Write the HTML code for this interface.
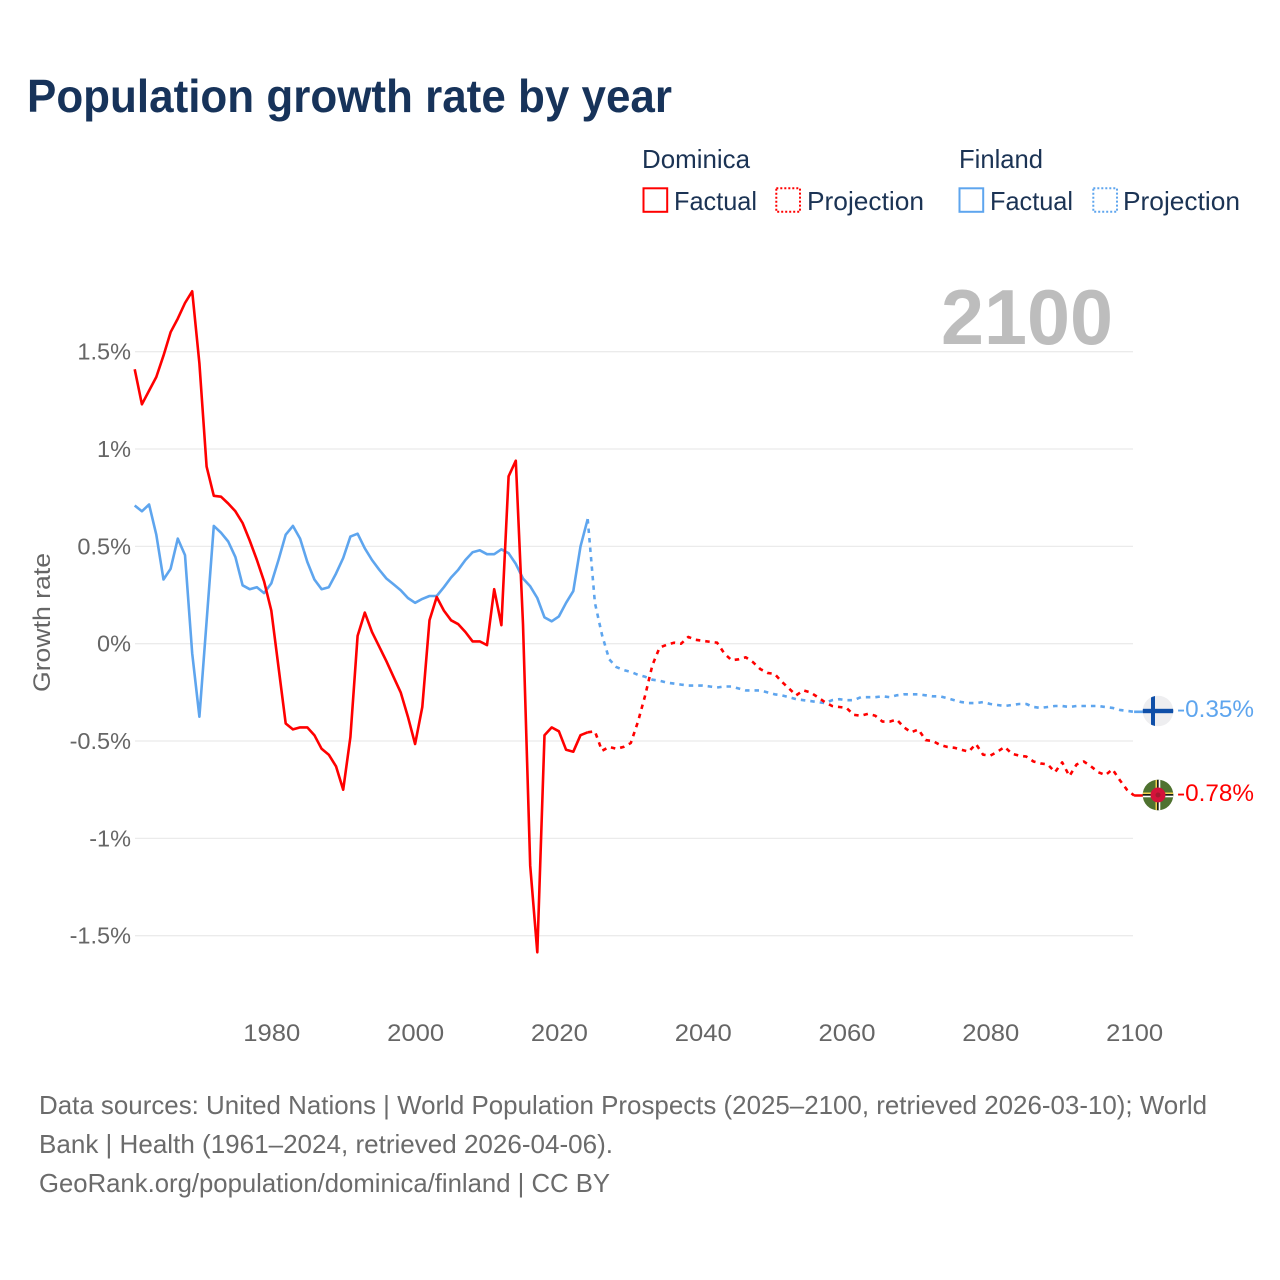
<!DOCTYPE html>
<html lang="en">
<head>
<meta charset="utf-8">
<title>Population growth rate by year</title>
<style>
html,body{margin:0;padding:0;background:#fff;width:1280px;height:1280px;overflow:hidden}
svg{display:block}
text{font-family:"Liberation Sans",sans-serif}
</style>
</head>
<body>
<svg id="chart" xmlns="http://www.w3.org/2000/svg" width="1280" height="1280" viewBox="0 0 1280 1280">
  <rect width="1280" height="1280" fill="#fff"/>
  <text x="27" y="112" font-size="46" font-weight="700" fill="#17335a" textLength="645" lengthAdjust="spacingAndGlyphs">Population growth rate by year</text>

  <g font-size="26" fill="#1b3354">
    <text x="642" y="168" textLength="108" lengthAdjust="spacingAndGlyphs">Dominica</text>
    <text x="959" y="168" textLength="84" lengthAdjust="spacingAndGlyphs">Finland</text>
    <rect x="643.5" y="188.3" width="23.7" height="23.5" fill="none" stroke="#ff0000" stroke-width="2"/>
    <text x="674" y="210" textLength="83" lengthAdjust="spacingAndGlyphs">Factual</text>
    <rect x="776.3" y="188.3" width="23.7" height="23.5" fill="none" stroke="#ff0000" stroke-width="2" stroke-dasharray="2 2"/>
    <text x="807" y="210" textLength="117" lengthAdjust="spacingAndGlyphs">Projection</text>
    <rect x="959.5" y="188.3" width="23.7" height="23.5" fill="none" stroke="#5ea5ee" stroke-width="2"/>
    <text x="990" y="210" textLength="83" lengthAdjust="spacingAndGlyphs">Factual</text>
    <rect x="1093.3" y="188.3" width="23.7" height="23.5" fill="none" stroke="#5ea5ee" stroke-width="2" stroke-dasharray="2 2"/>
    <text x="1123" y="210" textLength="117" lengthAdjust="spacingAndGlyphs">Projection</text>
  </g>

  <text x="941" y="344" font-size="78" font-weight="700" fill="#bdbdbd" textLength="172" lengthAdjust="spacingAndGlyphs">2100</text>

  <g id="grid"></g>
  <g id="yticks"></g>
  <g id="xticks"></g>
  <text transform="translate(50,692) rotate(-90)" font-size="24" fill="#666" textLength="139" lengthAdjust="spacingAndGlyphs">Growth rate</text>
  <g id="series"></g>

  <defs>
    <clipPath id="clip-fi"><circle cx="1158" cy="711" r="15.3"/></clipPath>
    <clipPath id="clip-dm"><circle cx="1158" cy="795" r="15.3"/></clipPath>
  </defs>
  <g clip-path="url(#clip-fi)">
    <rect x="1142" y="695" width="32" height="32" fill="#eeeef0"/>
    <rect x="1151" y="695" width="4" height="32" fill="#0f4fa8"/>
    <rect x="1142" y="708.8" width="32" height="4.4" fill="#0f4fa8"/>
  </g>
  <g clip-path="url(#clip-dm)">
    <rect x="1142" y="779" width="32" height="32" fill="#4f7230"/>
    <rect x="1155.5" y="779" width="1.6" height="32" fill="#f2d34f"/>
    <rect x="1157.1" y="779" width="1.6" height="32" fill="#111"/>
    <rect x="1158.7" y="779" width="1.6" height="32" fill="#fff"/>
    <rect x="1142" y="792.5" width="32" height="1.6" fill="#f2d34f"/>
    <rect x="1142" y="794.1" width="32" height="1.6" fill="#111"/>
    <rect x="1142" y="795.7" width="32" height="1.6" fill="#fff"/>
    <circle cx="1158" cy="795" r="7.5" fill="#d4123a"/>
    <circle cx="1158" cy="795" r="2.5" fill="#a5182f"/>
  </g>
  <text x="1177" y="717" font-size="24" fill="#5ea5ee" textLength="77" lengthAdjust="spacingAndGlyphs">-0.35%</text>
  <text x="1177" y="801" font-size="24" fill="#ff0000" textLength="77" lengthAdjust="spacingAndGlyphs">-0.78%</text>

  <g font-size="26" fill="#6b6b6b">
    <text x="39" y="1114" textLength="1168" lengthAdjust="spacingAndGlyphs">Data sources: United Nations | World Population Prospects (2025–2100, retrieved 2026-03-10); World</text>
    <text x="39" y="1153" textLength="574" lengthAdjust="spacingAndGlyphs">Bank | Health (1961–2024, retrieved 2026-04-06).</text>
    <text x="39" y="1192" textLength="571" lengthAdjust="spacingAndGlyphs">GeoRank.org/population/dominica/finland | CC BY</text>
  </g>
</svg>
<script>
const yTicks = [1.5, 1, 0.5, 0, -0.5, -1, -1.5];
const yTickLabels = ['1.5%', '1%', '0.5%', '0%', '-0.5%', '-1%', '-1.5%'];
const xTicks = [1980, 2000, 2020, 2040, 2060, 2080, 2100];
const factualStartYear = 1961;
const projectionStartYear = 2025;
const dominicaFactual = [1.41,1.23,1.30,1.37,1.48,1.60,1.67,1.75,1.81,1.44,0.91,0.76,0.755,0.72,0.68,0.62,0.53,0.43,0.32,0.17,-0.12,-0.41,-0.44,-0.43,-0.43,-0.47,-0.54,-0.57,-0.63,-0.75,-0.48,0.04,0.16,0.06,-0.015,-0.09,-0.17,-0.25,-0.375,-0.515,-0.325,0.12,0.24,0.17,0.12,0.10,0.06,0.012,0.012,-0.007,0.28,0.095,0.86,0.94,0.10,-1.14,-1.585,-0.47,-0.43,-0.45,-0.545,-0.555,-0.47,-0.455];
const dominicaProjection = [-0.45,-0.55,-0.53,-0.54,-0.53,-0.51,-0.40,-0.265,-0.11,-0.02,-0.005,0.005,0,0.035,0.02,0.015,0.01,0.005,-0.05,-0.085,-0.08,-0.07,-0.095,-0.13,-0.15,-0.155,-0.195,-0.23,-0.265,-0.24,-0.25,-0.275,-0.30,-0.32,-0.325,-0.33,-0.365,-0.37,-0.36,-0.37,-0.40,-0.40,-0.39,-0.43,-0.455,-0.44,-0.495,-0.50,-0.52,-0.53,-0.535,-0.545,-0.555,-0.515,-0.57,-0.575,-0.555,-0.53,-0.565,-0.575,-0.58,-0.605,-0.615,-0.62,-0.66,-0.61,-0.68,-0.62,-0.605,-0.63,-0.66,-0.675,-0.645,-0.70,-0.75,-0.78];
const finlandFactual = [0.71,0.68,0.715,0.56,0.33,0.385,0.54,0.455,-0.05,-0.375,0.115,0.605,0.57,0.525,0.445,0.30,0.28,0.29,0.26,0.31,0.43,0.56,0.605,0.54,0.42,0.33,0.28,0.29,0.36,0.44,0.55,0.565,0.49,0.43,0.38,0.335,0.305,0.275,0.235,0.21,0.23,0.245,0.245,0.29,0.34,0.38,0.43,0.47,0.48,0.46,0.46,0.485,0.465,0.41,0.335,0.295,0.235,0.135,0.115,0.14,0.21,0.27,0.50,0.64];
const finlandProjection = [0.21,0.045,-0.08,-0.12,-0.135,-0.145,-0.16,-0.17,-0.185,-0.19,-0.20,-0.205,-0.21,-0.215,-0.215,-0.215,-0.22,-0.225,-0.22,-0.22,-0.23,-0.24,-0.24,-0.24,-0.25,-0.26,-0.265,-0.275,-0.285,-0.29,-0.295,-0.30,-0.305,-0.29,-0.285,-0.29,-0.29,-0.275,-0.275,-0.275,-0.27,-0.275,-0.265,-0.26,-0.26,-0.26,-0.265,-0.27,-0.27,-0.28,-0.29,-0.30,-0.305,-0.305,-0.30,-0.31,-0.315,-0.32,-0.315,-0.31,-0.31,-0.325,-0.33,-0.325,-0.32,-0.32,-0.325,-0.32,-0.32,-0.32,-0.32,-0.325,-0.33,-0.34,-0.345,-0.35];

const NS = 'http://www.w3.org/2000/svg';
const flagX = 1158;
function xScale(year) { return 134.7 + (year - 1961) * 7.19; }
function yScale(value) { return 643.7 - value * 194.67; }
function pointsFrom(values, startYear) {
  return values.map(function (v, i) { return xScale(startYear + i).toFixed(1) + ',' + yScale(v).toFixed(1); });
}

const gridGroup = document.getElementById('grid');
const yTickGroup = document.getElementById('yticks');
yTicks.forEach(function (v, i) {
  const line = document.createElementNS(NS, 'line');
  
  
  line.setAttribute('x1', 135);
  line.setAttribute('x2', 1133);
  line.setAttribute('y1', yScale(v));
  line.setAttribute('y2', yScale(v));
  line.setAttribute('stroke', '#ebebeb');
  line.setAttribute('stroke-width', '1.3');
  gridGroup.appendChild(line);
  const label = document.createElementNS(NS, 'text');
  
  
  label.setAttribute('x', 131);
  label.setAttribute('y', yScale(v) + 8);
  label.setAttribute('text-anchor', 'end');
  label.setAttribute('font-size', '23.5');
  label.setAttribute('fill', '#666');
  label.textContent = yTickLabels[i];
  yTickGroup.appendChild(label);
});

const xTickGroup = document.getElementById('xticks');
xTicks.forEach(function (year) {
  const label = document.createElementNS(NS, 'text');
  
  
  label.setAttribute('x', xScale(year) + 0.5);
  label.setAttribute('y', 1041);
  label.setAttribute('text-anchor', 'middle');
  label.setAttribute('font-size', '24');
  label.setAttribute('fill', '#666');
  label.setAttribute('textLength', '57');
  label.setAttribute('lengthAdjust', 'spacingAndGlyphs');
  label.textContent = String(year);
  xTickGroup.appendChild(label);
});

const seriesGroup = document.getElementById('series');
function addPolyline(points, color, dash, name) {
  const line = document.createElementNS(NS, 'polyline');
  
  
  line.setAttribute('points', points.join(' '));
  line.setAttribute('fill', 'none');
  line.setAttribute('stroke', color);
  line.setAttribute('stroke-width', '2.6');
  line.setAttribute('stroke-linejoin', 'round');
  if (dash) line.setAttribute('stroke-dasharray', dash);
  seriesGroup.appendChild(line);
}
function addSeries(factual, projection, color, slug) {
  const factualPts = pointsFrom(factual, factualStartYear);
  const projectionPts = pointsFrom(projection, projectionStartYear);
  addPolyline([factualPts[factualPts.length - 1]].concat(projectionPts), color, '4.5 5', slug + '-projection-line');
  addPolyline(factualPts, color, null, slug + '-factual-line');
  const lastValue = projection[projection.length - 1];
  addPolyline([xScale(2100).toFixed(1) + ',' + yScale(lastValue).toFixed(1), flagX + ',' + yScale(lastValue).toFixed(1)], color, null, slug + '-leader-line');
}
addSeries(finlandFactual, finlandProjection, '#5ea5ee', 'finland');
addSeries(dominicaFactual, dominicaProjection, '#ff0000', 'dominica');
</script>
</body>
</html>
